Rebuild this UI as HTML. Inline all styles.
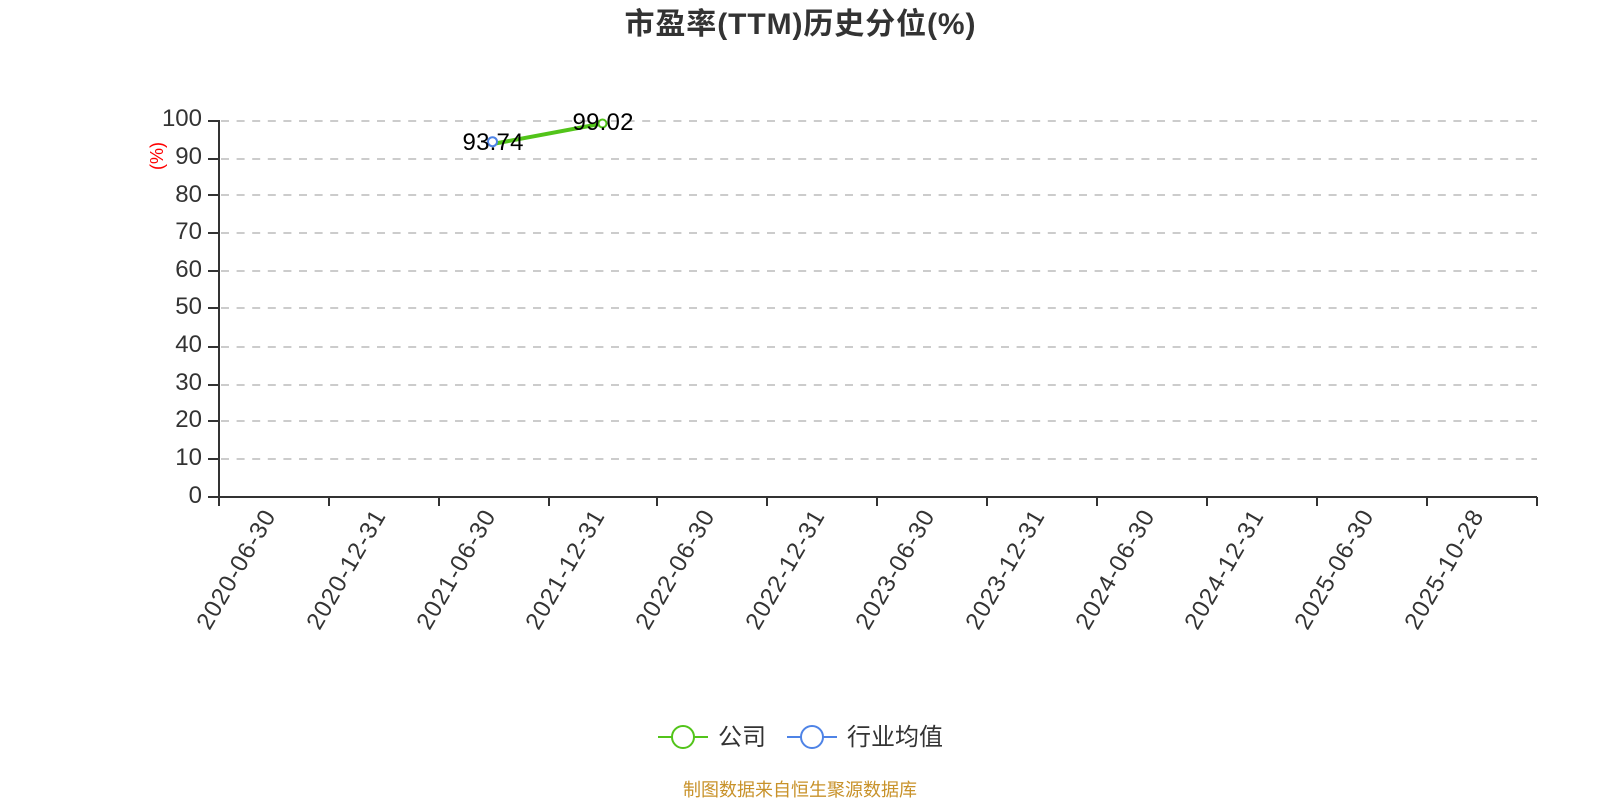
<!DOCTYPE html>
<html lang="zh"><head><meta charset="utf-8"><title>市盈率(TTM)历史分位(%)</title>
<style>
html,body{margin:0;padding:0;background:#fff;width:1600px;height:800px;overflow:hidden}
svg{display:block}
text{font-family:"Liberation Sans","Noto Sans CJK SC",sans-serif}
</style></head><body>
<svg width="1600" height="800" viewBox="0 0 1600 800" xmlns="http://www.w3.org/2000/svg">
<text x="800" y="34" text-anchor="middle" font-size="30" font-weight="700" fill="#333" textLength="351" lengthAdjust="spacing">市盈率(TTM)历史分位(%)</text>
<g stroke="#ccc" stroke-width="2" stroke-dasharray="8 7.6" fill="none">
<path d="M221 121H1537M221 159H1537M221 195H1537M221 233H1537M221 271H1537M221 308H1537M221 347H1537M221 385H1537M221 421H1537M221 459H1537"/>
</g>
<g stroke="#333" stroke-width="2" fill="none">
<path d="M219 120V498M208 497H1537"/>
<path d="M208 121H219M208 159H219M208 195H219M208 233H219M208 271H219M208 308H219M208 347H219M208 385H219M208 421H219M208 459H219"/>
<path d="M219 497V506M329 497V506M439 497V506M549 497V506M657 497V506M767 497V506M877 497V506M987 497V506M1097 497V506M1207 497V506M1317 497V506M1427 497V506M1537 497V506"/>
</g>
<g font-size="24" fill="#333" text-anchor="end">
<text x="202" y="126">100</text><text x="202" y="164">90</text><text x="202" y="202">80</text><text x="202" y="239">70</text><text x="202" y="277">60</text><text x="202" y="314">50</text><text x="202" y="352">40</text><text x="202" y="390">30</text><text x="202" y="427">20</text><text x="202" y="465">10</text><text x="202" y="503">0</text>
</g>
<text transform="translate(163,156) rotate(-90)" text-anchor="middle" font-size="18" fill="#f00">(%)</text>
<g font-size="24" fill="#333" text-anchor="end">
<text transform="translate(276,516) rotate(-60)" textLength="133" lengthAdjust="spacing">2020-06-30</text>
<text transform="translate(386,516) rotate(-60)" textLength="133" lengthAdjust="spacing">2020-12-31</text>
<text transform="translate(496,516) rotate(-60)" textLength="133" lengthAdjust="spacing">2021-06-30</text>
<text transform="translate(605,516) rotate(-60)" textLength="133" lengthAdjust="spacing">2021-12-31</text>
<text transform="translate(715,516) rotate(-60)" textLength="133" lengthAdjust="spacing">2022-06-30</text>
<text transform="translate(825,516) rotate(-60)" textLength="133" lengthAdjust="spacing">2022-12-31</text>
<text transform="translate(935,516) rotate(-60)" textLength="133" lengthAdjust="spacing">2023-06-30</text>
<text transform="translate(1045,516) rotate(-60)" textLength="133" lengthAdjust="spacing">2023-12-31</text>
<text transform="translate(1155,516) rotate(-60)" textLength="133" lengthAdjust="spacing">2024-06-30</text>
<text transform="translate(1264,516) rotate(-60)" textLength="133" lengthAdjust="spacing">2024-12-31</text>
<text transform="translate(1374,516) rotate(-60)" textLength="133" lengthAdjust="spacing">2025-06-30</text>
<text transform="translate(1484,516) rotate(-60)" textLength="133" lengthAdjust="spacing">2025-10-28</text>
</g>
<path d="M492.5 144L602.5 123.5" stroke="#52c41a" stroke-width="4" fill="none"/>
<circle cx="602.5" cy="123.5" r="4" fill="#fff" stroke="#52c41a" stroke-width="2"/>
<circle cx="492.5" cy="141.7" r="4.5" fill="#fff" stroke="#4e83e6" stroke-width="2"/>
<g font-size="24" fill="#000" text-anchor="middle">
<text x="493" y="150" textLength="61" lengthAdjust="spacing">93.74</text>
<text x="603" y="130" textLength="61" lengthAdjust="spacing">99.02</text>
</g>
<path d="M658 737H708" stroke="#52c41a" stroke-width="2"/>
<circle cx="683" cy="737" r="11" fill="#fff" stroke="#52c41a" stroke-width="2"/>
<path d="M787 737H837" stroke="#4e83e6" stroke-width="2"/>
<circle cx="812" cy="737" r="11" fill="#fff" stroke="#4e83e6" stroke-width="2"/>
<g font-size="24" fill="#333">
<text x="718" y="745">公司</text>
<text x="847" y="745">行业均值</text>
</g>
<text x="800" y="796" text-anchor="middle" font-size="18" fill="#c8922a">制图数据来自恒生聚源数据库</text>
</svg>
</body></html>
